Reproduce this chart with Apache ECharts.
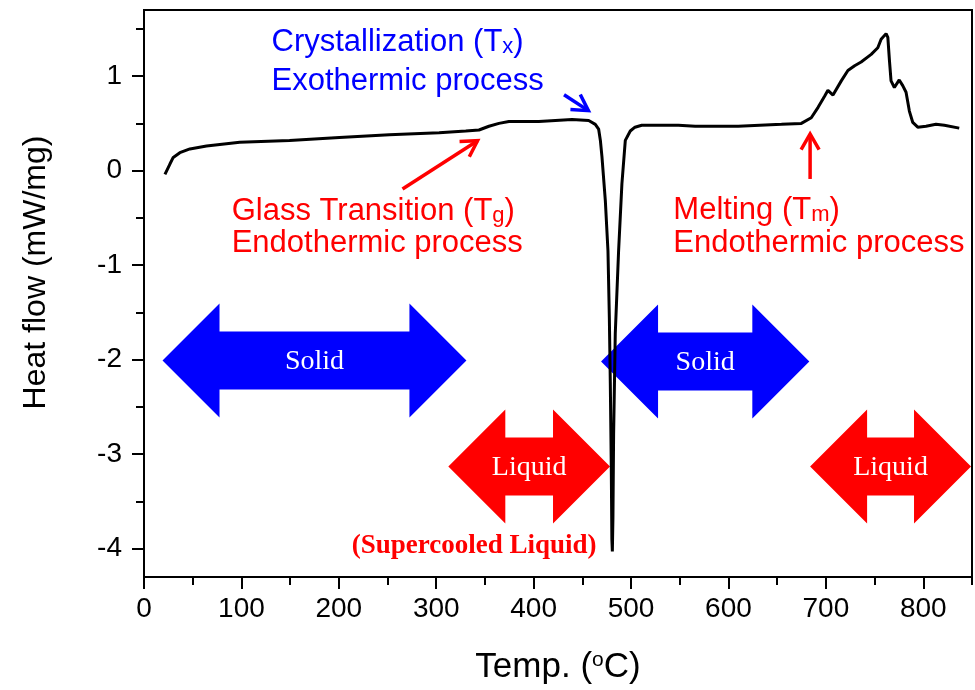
<!DOCTYPE html>
<html><head><meta charset="utf-8">
<script src="https://cdn.jsdelivr.net/npm/echarts@6/dist/echarts.min.js"></script>
<style>html,body{margin:0;padding:0;background:#fff}#c{width:975px;height:690px}</style>
</head><body><div id="c"></div>
<script>
// ---- data ----
const temperature = [21.5,26.6,30,36.8,47.1,64.2,98.3,149.4,200.6,251.8,303,330.3,343.9,354.1,364.4,374.6,405.3,439.4,456.5,463.3,466.7,468.5,470.1,473.6,476.3,477.7,478.7,479.7,480.3,480.8,481.4,482.1,483.8,487.2,490.6,494.1,499.2,504,511,548.6,565.8,582.7,610,654.4,674.8,685,692,698.8,702.1,707.3,715.8,722.6,729.5,736.2,746.5,753.3,756.7,761.8,763.6,765.3,766.9,770.3,775.3,778.9,782.3,785.7,789.2,794.3,802.8,813,821.6,836.9];
const heatFlow = [-0.04,0.07,0.14,0.19,0.23,0.26,0.30,0.32,0.35,0.38,0.40,0.42,0.43,0.47,0.50,0.52,0.52,0.54,0.53,0.49,0.44,0.32,0.15,-0.32,-0.85,-1.55,-2.25,-3.14,-3.9,-4.03,-3.67,-2.78,-1.72,-0.85,-0.14,0.32,0.42,0.46,0.48,0.48,0.47,0.47,0.47,0.49,0.50,0.56,0.67,0.79,0.85,0.80,0.95,1.06,1.11,1.15,1.23,1.30,1.39,1.45,1.41,1.16,0.95,0.88,0.96,0.90,0.83,0.63,0.51,0.46,0.47,0.49,0.48,0.45];
const xTickValues = [0,100,200,300,400,500,600,700,800];
const xMinorTickValues = [50,150,250,350,450,550,650,750,850];
const yTickValues = [-4,-3,-2,-1,0,1];
const yMinorTickValues = [-3.5,-2.5,-1.5,-0.5,0.5,1.5];
const xName = 'Temp. ({sup|o}C)';
const yName = 'Heat flow (mW/mg)';

// phase bands (temperature start, end, heat-flow level, label)
const phaseBands = [
  {from: 19, to: 331, level: -2.01, label: 'Solid', color: '#0000FF'},
  {from: 312.4, to: 478.4, level: -3.13, label: 'Liquid', color: '#FF0000'},
  {from: 469.2, to: 683, level: -2.02, label: 'Solid', color: '#0000FF'},
  {from: 683.8, to: 849, level: -3.13, label: 'Liquid', color: '#FF0000'}
];
// annotation pointers [fromT, fromH, toT, toH]
const pointers = [
  {from: [265.4, -0.194], to: [342.4, 0.317], color: '#FF0000'},
  {from: [683.8, -0.088], to: [683.8, 0.388], color: '#FF0000'},
  {from: [431.2, 0.804], to: [456.2, 0.635], color: '#0000FF'}
];
// annotation texts, anchored at left edge (data coords)
const notes = [
  {at: [130.9, 1.36], text: 'Crystallization (T{sub|x})', color: '#0000FF'},
  {at: [130.9, 0.94], text: 'Exothermic process', color: '#0000FF'},
  {at: [90.0, -0.43], text: 'Glass Transition (T{sub|g})', color: '#FF0000'},
  {at: [90.0, -0.77], text: 'Endothermic process', color: '#FF0000'},
  {at: [543.4, -0.42], text: 'Melting (T{sub|m})', color: '#FF0000'},
  {at: [543.4, -0.77], text: 'Endothermic process', color: '#FF0000'}
];
const superNote = {at: [338.9, -3.97], text: '(Supercooled Liquid)'};

const SANS = '"Liberation Sans", Arial, sans-serif';
const SERIF = '"Liberation Serif", "Times New Roman", serif';

const chart = echarts.init(document.getElementById('c'), null, {renderer: 'canvas'});
chart.setOption({
  animation: false,
  backgroundColor: '#fff',
  grid: {left: 144, right: 3, top: 10, bottom: 113, show: true, borderColor: '#000', borderWidth: 2, backgroundColor: 'transparent'},
  xAxis: [
    {type: 'value', min: 0, max: 850, position: 'bottom',
     axisLine: {show: true, onZero: false, lineStyle: {color: '#000', width: 2}},
     axisTick: {show: true, inside: false, length: 12, lineStyle: {color: '#000', width: 2}, customValues: xTickValues},
     axisLabel: {show: true, margin: 18, color: '#000', fontSize: 28, fontFamily: SANS, customValues: xTickValues},
     splitLine: {show: false},
     name: xName, nameLocation: 'middle', nameGap: 73,
     nameTextStyle: {color: '#000', fontSize: 35, fontFamily: SANS,
       rich: {sup: {fontSize: 21, fontFamily: SANS, color: '#000', verticalAlign: 'top', lineHeight: 14}}}
    },
    {type: 'value', min: 0, max: 850, position: 'bottom',
     axisLine: {show: false, onZero: false},
     axisTick: {show: true, inside: false, length: 8, lineStyle: {color: '#000', width: 2}, customValues: xMinorTickValues},
     axisLabel: {show: false}, splitLine: {show: false}
    }
  ],
  yAxis: [
    {type: 'value', min: -4.3, max: 1.7, position: 'left',
     axisLine: {show: true, onZero: false, lineStyle: {color: '#000', width: 2}},
     axisTick: {show: true, inside: false, length: 12, lineStyle: {color: '#000', width: 2}, customValues: yTickValues},
     axisLabel: {show: true, margin: 22, color: '#000', fontSize: 28, fontFamily: SANS, customValues: yTickValues},
     splitLine: {show: false},
     name: yName, nameLocation: 'middle', nameGap: 92,
     nameTextStyle: {color: '#000', fontSize: 32, fontFamily: SANS, padding: [0, 0, 0, 42]}
    },
    {type: 'value', min: -4.3, max: 1.7, position: 'left',
     axisLine: {show: false, onZero: false},
     axisTick: {show: true, inside: false, length: 8, lineStyle: {color: '#000', width: 2}, customValues: yMinorTickValues},
     axisLabel: {show: false}, splitLine: {show: false}
    }
  ],
  series: [{
    type: 'line', xAxisIndex: 0, yAxisIndex: 0, z: 5,
    data: temperature.map((t, i) => [t, heatFlow[i]]),
    showSymbol: false, symbol: 'none',
    lineStyle: {color: '#000', width: 3},
    smooth: false
  }]
});

function P(v) { return chart.convertToPixel({seriesIndex: 0}, v); }

const graphics = [];
const HEAD = 57, HALF = 57, SHAFT = 29;
phaseBands.forEach(b => {
  const a = P([b.from, b.level]), c = P([b.to, b.level]);
  const x1 = a[0], x2 = c[0], y = a[1];
  graphics.push({
    type: 'polygon', z: 1,
    shape: {points: [[x1, y], [x1 + HEAD, y - HALF], [x1 + HEAD, y - SHAFT], [x2 - HEAD, y - SHAFT], [x2 - HEAD, y - HALF], [x2, y], [x2 - HEAD, y + HALF], [x2 - HEAD, y + SHAFT], [x1 + HEAD, y + SHAFT], [x1 + HEAD, y + HALF]]},
    style: {fill: b.color, stroke: null}
  });
  graphics.push({
    type: 'text', z: 2, x: (x1 + x2) / 2, y: y + 1,
    style: {text: b.label, fill: '#fff', font: '28px ' + SERIF, align: 'center', verticalAlign: 'middle'}
  });
});
pointers.forEach(p => {
  const a = P(p.from), b = P(p.to);
  const ang = Math.atan2(b[1] - a[1], b[0] - a[0]);
  const L = 18, sp = Math.PI / 6;
  const h1 = [b[0] - L * Math.cos(ang - sp), b[1] - L * Math.sin(ang - sp)];
  const h2 = [b[0] - L * Math.cos(ang + sp), b[1] - L * Math.sin(ang + sp)];
  graphics.push({type: 'polyline', z: 3, shape: {points: [a, b]}, style: {stroke: p.color, lineWidth: 3.5, fill: null}});
  graphics.push({type: 'polyline', z: 3, shape: {points: [h1, b, h2]}, style: {stroke: p.color, lineWidth: 3.5, fill: null, lineJoin: 'miter'}});
});
notes.forEach(n => {
  const a = P(n.at);
  graphics.push({
    type: 'text', z: 3, x: a[0], y: a[1],
    style: {text: n.text, fill: n.color, font: '31px ' + SANS, align: 'left', verticalAlign: 'middle',
      rich: {sub: {fontSize: 22, fontFamily: SANS, fill: n.color, verticalAlign: 'bottom', lineHeight: 14}}}
  });
});
{
  const a = P(superNote.at);
  graphics.push({
    type: 'text', z: 3, x: a[0], y: a[1],
    style: {text: superNote.text, fill: '#FF0000', font: 'bold 27px ' + SERIF, align: 'center', verticalAlign: 'middle'}
  });
}
chart.setOption({graphic: graphics});
</script>
</body></html>
